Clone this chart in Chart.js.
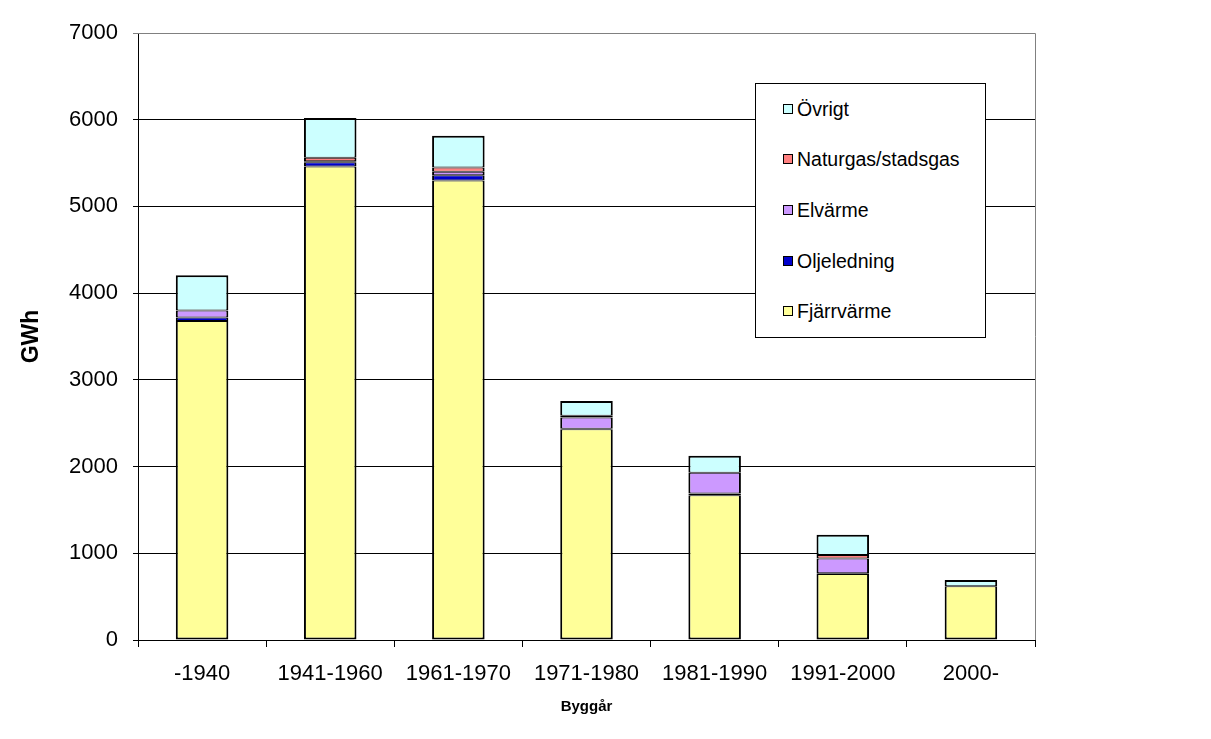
<!DOCTYPE html>
<html>
<head>
<meta charset="utf-8">
<script src="https://cdn.jsdelivr.net/npm/chart.js@4/dist/chart.umd.min.js"></script>
<style>
html,body{margin:0;padding:0;background:#fff;}
#wrap{position:relative;width:1211px;height:739px;}
#legend{position:absolute;left:755px;top:83px;width:231px;height:255px;border:1px solid #000;background:#fff;box-sizing:border-box;font-family:"Liberation Sans",Arial,sans-serif;font-size:19.5px;color:#000;}
.li{position:absolute;left:27px;height:22px;line-height:22px;white-space:nowrap;}
.sw{display:inline-block;width:8px;height:8px;border:1px solid #000;margin-right:4px;vertical-align:2px;}
</style>
</head>
<body>
<div id="wrap">
<canvas id="c" width="1211" height="739"></canvas>
<div id="legend"></div>
</div>
<script>
const categories = ["-1940","1941-1960","1961-1970","1971-1980","1981-1990","1991-2000","2000-"];
const fjarrvarme = [3680, 5460, 5300, 2430, 1670, 760, 620];
const oljeledning = [40, 50, 60, 5, 20, 10, 0];
const elvarme = [80, 10, 40, 130, 240, 170, 0];
const naturgas = [0, 40, 50, 20, 0, 40, 0];
const ovrigt = [405, 460, 365, 170, 195, 235, 72];
const yTicks = [0,1000,2000,3000,4000,5000,6000,7000];

const FONT = '"Liberation Sans", Arial, sans-serif';
const series = [
  {label:"Fjärrvärme", data:fjarrvarme, color:"#FFFF99"},
  {label:"Oljeledning", data:oljeledning, color:"#0000CC"},
  {label:"Elvärme", data:elvarme, color:"#CC99FF"},
  {label:"Naturgas/stadsgas", data:naturgas, color:"#FF8080"},
  {label:"Övrigt", data:ovrigt, color:"#CCFFFF"}
];

const borderPlugin = {
  id:'plotBorder',
  afterDraw(chart){
    const a = chart.chartArea, ctx = chart.ctx;
    ctx.save();
    ctx.strokeStyle = '#808080';
    ctx.lineWidth = 1;
    ctx.beginPath();
    ctx.moveTo(a.left, a.top + 0.5);
    ctx.lineTo(a.right + 0.5, a.top + 0.5);
    ctx.lineTo(a.right + 0.5, a.bottom);
    ctx.stroke();
    ctx.restore();
  }
};

new Chart(document.getElementById('c'), {
  type:'bar',
  data:{
    labels:categories,
    datasets:series.map((s,i)=>({
      label:s.label, data:s.data, backgroundColor:s.color,
      borderColor:'#000',
      borderWidth:{left:2, right:2, top:(i===series.length-1?2:1), bottom:(i===0?2:1)},
      borderSkipped:false,
      barPercentage:0.41, categoryPercentage:1.0
    }))
  },
  options:{
    responsive:false,
    animation:false,
    layout:{padding:{left:18, top:33, right:176, bottom:23}},
    plugins:{legend:{display:false}, tooltip:{enabled:false}},
    scales:{
      x:{
        stacked:true,
        offset:true,
        grid:{display:true, drawOnChartArea:false, color:'#000', tickLength:7, offset:true},
        border:{color:'#000', width:1},
        ticks:{font:{family:FONT, size:22}, color:'#000', padding:14, maxRotation:0},
        title:{display:true, text:'Byggår', font:{family:FONT, size:15, weight:'bold'}, color:'#000', padding:{top:0, bottom:0}},
        afterFit(scale){ scale.height = 76; }
      },
      y:{
        stacked:true,
        min:0, max:7000,
        afterBuildTicks(scale){ scale.ticks = yTicks.map(v=>({value:v})); },
        grid:{color:(c)=> c.tick && c.tick.value===7000 ? '#808080' : '#000', tickLength:5, lineWidth:1},
        border:{color:'#000', width:1},
        ticks:{font:{family:FONT, size:22}, color:'#000', padding:15, callback:(v)=>String(v)},
        title:{display:true, text:'GWh', font:{family:FONT, size:23, weight:'bold'}, color:'#000', padding:{top:0,bottom:0}},
        afterFit(scale){ scale.width = 120; }
      }
    }
  },
  plugins:[borderPlugin]
});

// legend (reversed order, top = Övrigt)
const lg = document.getElementById('legend');
const tops = [14, 64, 115, 166, 216];
series.slice().reverse().forEach((s,i)=>{
  const d = document.createElement('div');
  d.className='li';
  d.style.top = tops[i]+'px';
  d.innerHTML = '<span class="sw" style="background:'+s.color+'"></span>'+s.label;
  lg.appendChild(d);
});
</script>
</body>
</html>
